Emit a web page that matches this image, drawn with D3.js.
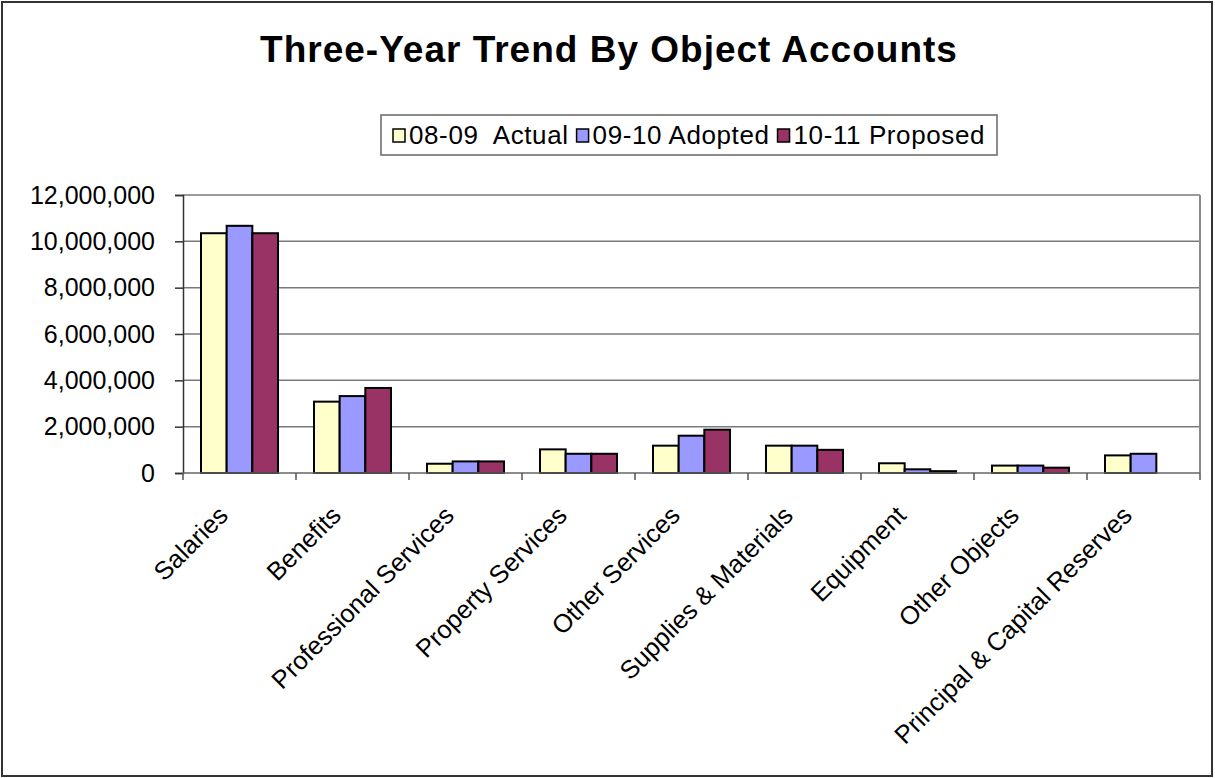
<!DOCTYPE html>
<html>
<head>
<meta charset="utf-8">
<script src="https://cdn.jsdelivr.net/npm/d3@7"></script>
<style>
  body { margin: 0; background: #fff; }
  svg { display: block; font-family: "Liberation Sans", Arial, sans-serif; }
</style>
</head>
<body>
<svg id="chart" width="1215" height="778"></svg>
<script>
"use strict";

// chart data
const categories = [
  "Salaries", "Benefits", "Professional Services", "Property Services",
  "Other Services", "Supplies & Materials", "Equipment", "Other Objects",
  "Principal & Capital Reserves"
];
const seriesNames = ["08-09  Actual", "09-10 Adopted", "10-11 Proposed"];
const seriesColors = ["#FFFFCC", "#9999FF", "#993366"];
const actual0809 = [10350000, 3080000, 400000, 1020000, 1180000, 1180000, 420000, 320000, 760000];
const adopted0910 = [10670000, 3320000, 500000, 830000, 1610000, 1180000, 160000, 320000, 830000];
const proposed1011 = [10350000, 3670000, 500000, 830000, 1870000, 1000000, 80000, 230000, 0];
const yTicks = [0, 2000000, 4000000, 6000000, 8000000, 10000000, 12000000];

const seriesValues = [actual0809, adopted0910, proposed1011];

const svg = d3.select("#chart");

// outer frame
svg.append("rect")
  .attr("x", 2).attr("y", 2)
  .attr("width", 1210).attr("height", 774)
  .attr("fill", "#fff")
  .attr("stroke", "#333").attr("stroke-width", 2);

// title
svg.append("text")
  .attr("x", 609).attr("y", 62)
  .attr("text-anchor", "middle")
  .style("font-size", "37px")
  .style("font-weight", "bold")
  .style("letter-spacing", "1px")
  .text("Three-Year Trend By Object Accounts");

// plot area
const plot = { left: 183, right: 1200, top: 195, bottom: 473 };

const x0 = d3.scaleBand()
  .domain(categories)
  .range([plot.left, plot.right]);

const x1 = d3.scaleBand()
  .domain(d3.range(seriesNames.length))
  .range([18, x0.bandwidth() - 18]);

const y = d3.scaleLinear()
  .domain([0, 12000000])
  .range([plot.bottom, plot.top]);

// gridlines
svg.append("g")
  .selectAll("line")
  .data(yTicks.filter(d => d > 0))
  .join("line")
  .attr("x1", plot.left).attr("x2", plot.right)
  .attr("y1", d => y(d)).attr("y2", d => y(d))
  .attr("stroke", "#7a7a7a").attr("stroke-width", 1.5);

// right border of the plot area
svg.append("line")
  .attr("x1", plot.right).attr("x2", plot.right)
  .attr("y1", plot.top).attr("y2", plot.bottom)
  .attr("stroke", "#8a8a8a").attr("stroke-width", 2);

// bars
const groups = svg.append("g")
  .selectAll("g")
  .data(categories)
  .join("g")
  .attr("transform", d => "translate(" + x0(d) + ",0)");

groups.selectAll("rect")
  .data((d, i) => seriesValues.map((vals, s) => ({ s: s, v: vals[i] })))
  .join("rect")
  .filter(d => d.v > 0)
  .attr("x", d => x1(d.s))
  .attr("y", d => y(d.v))
  .attr("width", x1.bandwidth())
  .attr("height", d => y(0) - y(d.v))
  .attr("fill", d => seriesColors[d.s])
  .attr("stroke", "#000")
  .attr("stroke-width", 2);

// y axis
const yAxis = svg.append("g")
  .attr("transform", "translate(" + plot.left + ",0)")
  .call(d3.axisLeft(y)
    .tickValues(yTicks)
    .tickSize(8)
    .tickPadding(20)
    .tickFormat(d3.format(",")));
yAxis.select(".domain").attr("stroke", "#333").attr("stroke-width", 1.5);
yAxis.selectAll(".tick line").attr("stroke", "#333").attr("stroke-width", 1.5);
yAxis.selectAll(".tick text")
  .style("font-size", "25px")
  .style("font-family", "'Liberation Sans', Arial, sans-serif")
  .attr("fill", "#000");

// x axis baseline and ticks
const xAxis = svg.append("g")
  .attr("transform", "translate(0," + plot.bottom + ")");
xAxis.append("line")
  .attr("x1", plot.left).attr("x2", plot.right)
  .attr("stroke", "#666").attr("stroke-width", 1.5);
xAxis.selectAll(".xtick")
  .data(categories.concat([null]))
  .join("line")
  .attr("class", "xtick")
  .attr("x1", (d, i) => plot.left + i * x0.step())
  .attr("x2", (d, i) => plot.left + i * x0.step())
  .attr("y1", 0).attr("y2", 7)
  .attr("stroke", "#555").attr("stroke-width", 1.5);

// rotated category labels
xAxis.selectAll(".xlabel")
  .data(categories)
  .join("text")
  .attr("class", "xlabel")
  .attr("text-anchor", "end")
  .attr("transform", d =>
    "translate(" + (x0(d) + x0.bandwidth() / 2 - 10) + ",44) rotate(-45)")
  .style("font-size", "25.5px")
  .text(d => d);

// legend
const legendBox = { x: 381, y: 115, w: 616, h: 40 };
const legend = svg.append("g");
legend.append("rect")
  .attr("x", legendBox.x).attr("y", legendBox.y)
  .attr("width", legendBox.w).attr("height", legendBox.h)
  .attr("fill", "#fff")
  .attr("stroke", "#666").attr("stroke-width", 1.5);

let lx = legendBox.x + 12;
seriesNames.forEach(function (name, i) {
  legend.append("rect")
    .attr("x", lx).attr("y", legendBox.y + 14)
    .attr("width", 12).attr("height", 13)
    .attr("fill", seriesColors[i])
    .attr("stroke", "#000").attr("stroke-width", 1.5);
  const t = legend.append("text")
    .attr("x", lx + 16).attr("y", legendBox.y + 29)
    .style("font-size", "26px")
    .style("letter-spacing", "0.6px")
    .attr("xml:space", "preserve")
    .text(name);
  lx += 16 + t.node().getComputedTextLength() + 8;
});
</script>
</body>
</html>
